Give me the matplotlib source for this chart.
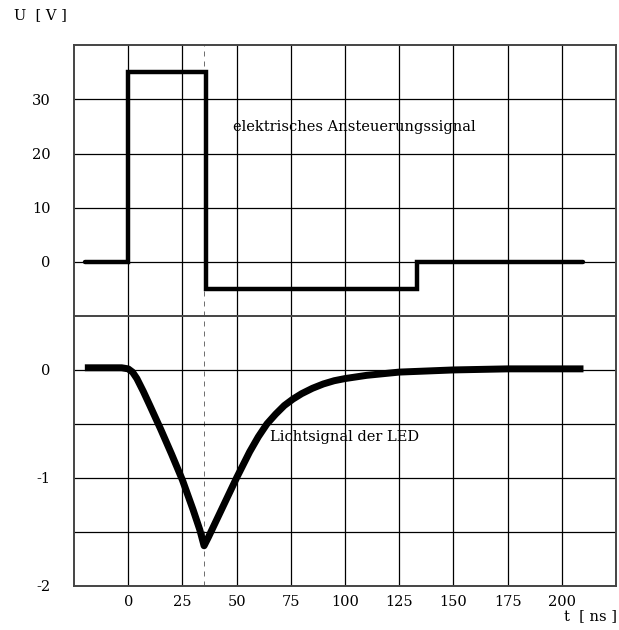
import numpy as np
import matplotlib.pyplot as plt

plt.rcParams['font.family'] = ['DejaVu Serif']
plt.rcParams['axes.unicode_minus'] = False

# elektrisches Ansteuerungssignal (Stufenfunktion)
t_drive = [-20, 0, 0, 36, 36, 133, 133, 210]
u_drive = [0, 0, 35, 35, -5, -5, 0, 0]

# Lichtsignal der LED
t_led = [-20, -10, -3, 0, 2, 4, 7, 10, 15, 20, 25, 30, 33, 35,
         37, 50, 53, 56, 60, 64, 68, 72, 76, 80, 85, 90, 95, 100, 110, 125, 150, 175, 210]
u_led = [0.02, 0.02, 0.02, 0.01, -0.02, -0.08, -0.2, -0.33, -0.55, -0.78, -1.02, -1.3,
         -1.48, -1.63,
         -1.55, -1.0, -0.88, -0.76, -0.62, -0.5, -0.41, -0.33, -0.27, -0.22, -0.17,
         -0.13, -0.1, -0.08, -0.05, -0.02, 0.0, 0.01, 0.01]

t_marker = 35
x_ticks = [0, 25, 50, 75, 100, 125, 150, 175, 200]
y_ticks_top = [0, 10, 20, 30]
y_ticks_bot = [0, -1, -2]

fig = plt.figure(figsize=(6.19, 6.30), dpi=100)
left, right = 74 / 619, 616 / 619
top, mid, bottom = 1 - 45.3 / 630, 1 - 316 / 630, 1 - 585.7 / 630
ax1 = fig.add_axes([left, mid, right - left, top - mid])
ax2 = fig.add_axes([left, bottom, right - left, mid - bottom], sharex=ax1)

for ax in (ax1, ax2):
    ax.set_xlim(-25, 225)
    for x in np.arange(0, 225, 25):
        ax.axvline(x, color='black', linewidth=0.9, zorder=1)
    ax.tick_params(which='both', length=0)
    ax.axvline(t_marker, color='#555555', linewidth=0.6, linestyle=(0, (6, 6)), zorder=1)
    for s in ax.spines.values():
        s.set_color('#444444')
        s.set_linewidth(1.4)

ax1.set_ylim(-10, 40)
ax1.set_yticks(y_ticks_top)
for y in range(0, 40, 10):
    ax1.axhline(y, color='black', linewidth=0.9, zorder=1)
ax1.tick_params(axis='x', labelbottom=False)
ax1.tick_params(axis='y', pad=17, labelsize=10.5)
ax1.spines['bottom'].set_visible(False)
ax1.plot(t_drive, u_drive, color='black', linewidth=3.2,
         solid_capstyle='round', solid_joinstyle='miter', zorder=3)
ax1.text(48.5, 24.9, 'elektrisches Ansteuerungssignal',
         fontsize=10.5, va='center', ha='left')

ax2.set_ylim(-2, 0.5)
ax2.set_yticks(y_ticks_bot)
for y in np.arange(-1.5, 0.5, 0.5):
    ax2.axhline(y, color='black', linewidth=0.9, zorder=1)
ax2.set_xticks(x_ticks)
ax2.set_xticklabels([str(v) for v in x_ticks])
ax2.tick_params(axis='x', pad=7, labelsize=10.5)
ax2.tick_params(axis='y', pad=17, labelsize=10.5)
ax2.plot(t_led, u_led, color='black', linewidth=5,
         solid_capstyle='butt', solid_joinstyle='round', zorder=3)
ax2.text(65.5, -0.62, 'Lichtsignal der LED', fontsize=10.5, va='center', ha='left')

fig.text(14 / 619, 1 - 15 / 630, 'U  [ V ]', fontsize=10.5, va='center', ha='left')
fig.text(617 / 619, 1 - 616 / 630, 't  [ ns ]', fontsize=10.5, va='center', ha='right')

fig.savefig('out.png', dpi=100)
